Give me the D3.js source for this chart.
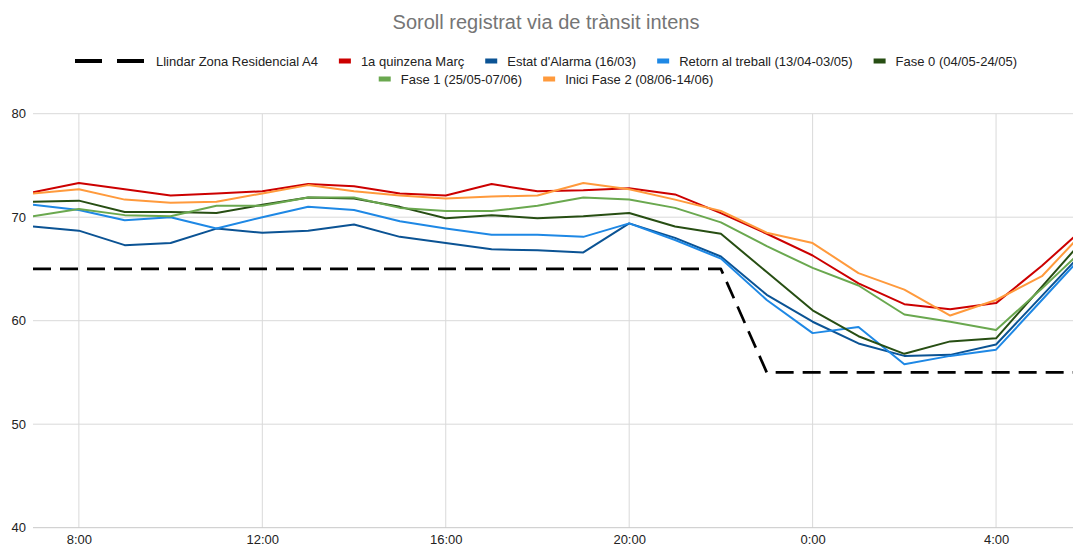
<!DOCTYPE html>
<html>
<head>
<meta charset="utf-8">
<script src="https://cdn.jsdelivr.net/npm/d3@7"></script>
<style>
body{margin:0;background:#fff;}
text{font-family:Arial,"Liberation Sans",sans-serif;}
</style>
</head>
<body>
<svg id="chart" width="1073" height="549"></svg>
<script>
// hours shown on the x axis (7:00 one day to 6:00 the next)
var hours = ["7:00","8:00","9:00","10:00","11:00","12:00","13:00","14:00","15:00","16:00","17:00","18:00",
	"19:00","20:00","21:00","22:00","23:00","0:00","1:00","2:00","3:00","4:00","5:00","6:00"];
var llindar = [65,65,65,65,65,65,65,65,65,65,65,65,65,65,65,65,55,55,55,55,55,55,55,55];
var marc = [72.4,73.3,72.7,72.1,72.3,72.5,73.2,73.0,72.3,72.1,73.2,72.5,72.6,72.8,72.2,70.4,68.4,66.3,63.6,61.6,61.1,61.7,65.3,69.3];
var alarma = [69.1,68.7,67.3,67.5,68.9,68.5,68.7,69.3,68.1,67.5,66.9,66.8,66.6,69.4,68.0,66.2,62.5,59.9,57.8,56.6,56.7,57.7,62.4,67.1];
var retorn = [71.2,70.7,69.7,70.0,68.9,70.0,71.0,70.7,69.6,68.9,68.3,68.3,68.1,69.4,67.8,66.0,62.0,58.8,59.4,55.8,56.6,57.2,62.0,66.8];
var fase0 = [71.5,71.6,70.5,70.5,70.4,71.2,71.9,71.8,71.0,69.9,70.2,69.9,70.1,70.4,69.1,68.4,64.7,61.0,58.5,56.8,58.0,58.3,63.3,68.3];
var fase1 = [70.1,70.8,70.2,70.1,71.1,71.1,71.9,71.9,70.9,70.6,70.6,71.1,71.9,71.7,70.9,69.5,67.2,65.1,63.4,60.6,59.9,59.1,63.1,67.3];
var fase2 = [72.3,72.7,71.7,71.4,71.5,72.3,73.1,72.5,72.1,71.8,72.0,72.1,73.3,72.7,71.7,70.6,68.5,67.5,64.6,63.0,60.5,62.0,64.3,69.0];
var yTicks = [40,50,60,70,80];

var series = [
	{name:"Llindar Zona Residencial A4", values:llindar, color:"#000000", dash:true},
	{name:"1a quinzena Març", values:marc, color:"#cc0000"},
	{name:"Estat d'Alarma (16/03)", values:alarma, color:"#0b5394"},
	{name:"Retorn al treball (13/04-03/05)", values:retorn, color:"#1e88e5"},
	{name:"Fase 0 (04/05-24/05)", values:fase0, color:"#274e13"},
	{name:"Fase 1 (25/05-07/06)", values:fase1, color:"#6aa84f"},
	{name:"Inici Fase 2 (08/06-14/06)", values:fase2, color:"#ff9a3c"}
];

// turn "H:MM" into a date, hours before 7 belong to the next day
function toDate(h){
	var hh = +h.split(":")[0];
	return new Date(2020, 0, hh < 7 ? 2 : 1, hh);
}
var dates = hours.map(toDate);

var svg = d3.select("#chart");
var W = 1073;
var plotLeft = 33, plotTop = 113.7, plotBottom = 527.7;

var x = d3.scaleTime()
	.domain([dates[0], dates[dates.length-1]])
	.range([plotLeft, plotLeft + 23*45.86]);
var y = d3.scaleLinear().domain([40,80]).range([plotBottom, plotTop]);

svg.append("defs").append("clipPath").attr("id","plotclip")
	.append("rect").attr("x",plotLeft).attr("y",0).attr("width",W-plotLeft).attr("height",549);

// title
svg.append("text")
	.attr("x",546).attr("y",29)
	.attr("text-anchor","middle")
	.style("font-size","20px").style("fill","#757575")
	.text("Soroll registrat via de trànsit intens");

// gridlines
var xTicks = d3.timeHour.every(4).range(toDate("8:00"), new Date(2020,0,2,6));
svg.append("g").selectAll("line").data(xTicks).enter().append("line")
	.attr("x1",function(d){return x(d);}).attr("x2",function(d){return x(d);})
	.attr("y1",plotTop).attr("y2",plotBottom)
	.attr("stroke","#d9d9d9").attr("stroke-width",1);
svg.append("g").selectAll("line").data(yTicks).enter().append("line")
	.attr("x1",plotLeft).attr("x2",W)
	.attr("y1",function(d){return y(d);}).attr("y2",function(d){return y(d);})
	.attr("stroke",function(d){return d==40 ? "#c8c8c8" : "#d9d9d9";}).attr("stroke-width",1);

// axes labels
var yAxis = svg.append("g").attr("transform","translate("+plotLeft+",0)")
	.call(d3.axisLeft(y).tickValues(yTicks).tickSize(0).tickPadding(7));
yAxis.select(".domain").remove();
yAxis.selectAll("text").style("font-size","13px").style("fill","#222");

var xAxis = svg.append("g").attr("transform","translate(0,"+plotBottom+")")
	.call(d3.axisBottom(x).tickValues(xTicks).tickFormat(d3.timeFormat("%-H:%M")).tickSize(0).tickPadding(7));
xAxis.select(".domain").remove();
xAxis.selectAll("text").style("font-size","13px").style("fill","#222");

// lines
var line = d3.line()
	.x(function(d,i){return x(dates[i]);})
	.y(function(d){return y(d);});
var plot = svg.append("g").attr("clip-path","url(#plotclip)");
series.forEach(function(s){
	plot.append("path")
		.attr("d", line(s.values))
		.attr("fill","none")
		.attr("stroke", s.color)
		.attr("stroke-width", s.dash ? 2.7 : 2)
		.attr("stroke-dasharray", s.dash ? "18,9" : null)
		.attr("stroke-linejoin","round");
});

// legend, two centred rows
var rows = [series.slice(0,5), series.slice(5)];
var rowY = [61, 79];
rows.forEach(function(items, r){
	var g = svg.append("g");
	var cx = 0;
	items.forEach(function(s, k){
		if(k>0){cx += 21;}
		if(s.dash){
			g.append("rect").attr("x",cx).attr("y",rowY[r]-2).attr("width",27).attr("height",4).attr("fill",s.color);
			g.append("rect").attr("x",cx+42).attr("y",rowY[r]-2).attr("width",27).attr("height",4).attr("fill",s.color);
			cx += 81;
		}else{
			g.append("rect").attr("x",cx).attr("y",rowY[r]-2.5).attr("width",12).attr("height",5).attr("fill",s.color);
			cx += 22;
		}
		var t = g.append("text").attr("x",cx).attr("y",rowY[r]+4.5)
			.style("font-size","13px").style("fill","#222").text(s.name);
		cx += t.node().getComputedTextLength();
	});
	g.attr("transform","translate("+(546 - cx/2)+",0)");
});
</script>
</body>
</html>
